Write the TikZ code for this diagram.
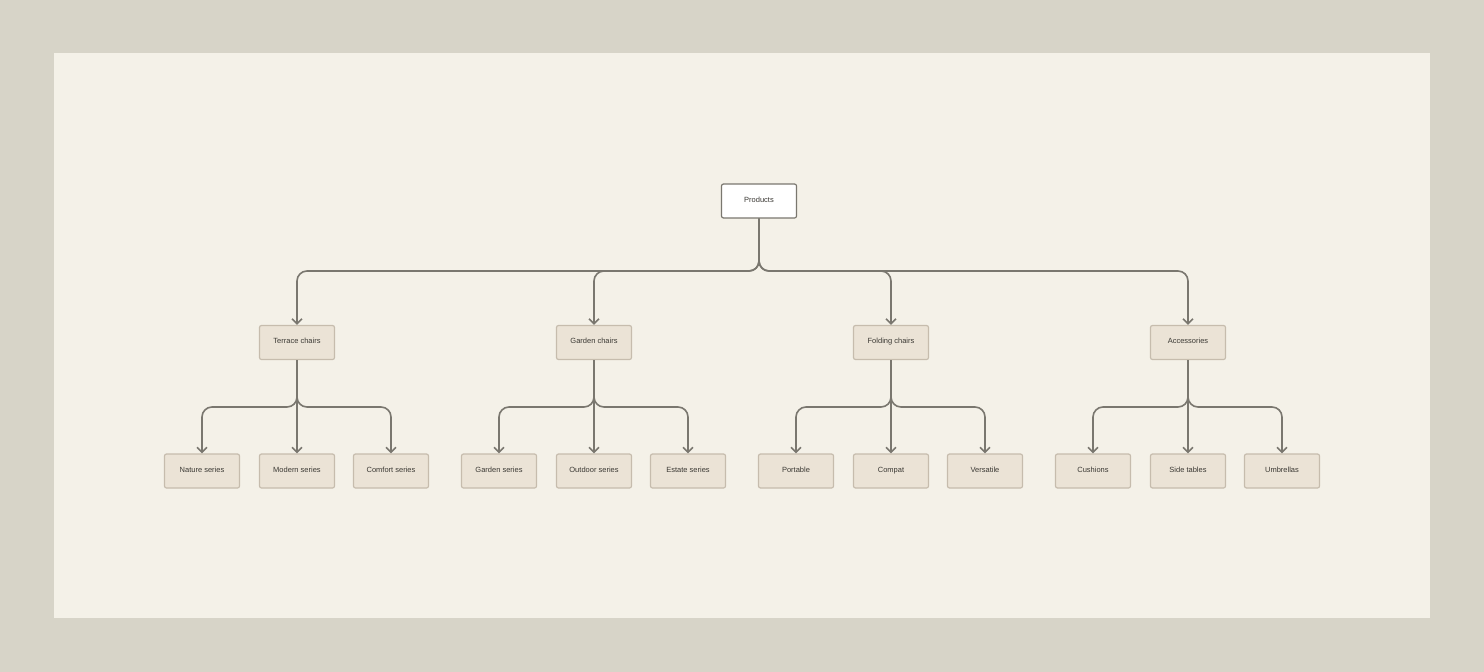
\documentclass[tikz,border=0pt]{standalone}
\usepackage{fontspec}
\setmainfont{Liberation Sans}
\usetikzlibrary{arrows.meta}
\definecolor{outer}{HTML}{D7D4C8}
\definecolor{panel}{HTML}{F4F1E8}
\definecolor{edge}{HTML}{7A776F}
\definecolor{boxfill}{HTML}{EBE3D6}
\definecolor{boxline}{HTML}{C6BCAD}
\definecolor{txt}{HTML}{3A3833}
\begin{document}
\begin{tikzpicture}[x=1pt,y=-1pt,
  box/.style={draw=boxline,fill=boxfill,line width=1.2pt,rounded corners=2pt,minimum width=75pt,minimum height=34pt,inner sep=0pt,text height=5pt,text depth=2.5pt,font=\fontsize{7.5}{8}\selectfont,text=txt},
  root/.style={box,draw=edge,fill=white},
  conn/.style={draw=edge,line width=1.6pt,rounded corners=10pt,-{Straight Barb[length=5pt,width=10pt]}}]
\fill[outer] (0,0) rectangle (1484,672);
\fill[panel] (54,53) rectangle (1430,618);
\useasboundingbox (0,0) rectangle (1484,672);
\node[root] (p) at (759,201) {Products};
\foreach \n/\x/\t in {a/297/Terrace chairs,b/594/Garden chairs,c/891/Folding chairs,d/1188/Accessories}{
  \node[box] (\n) at (\x,342.5) {\t};
  \draw[conn] (p.south) |- (\x,271) -- (\n.north);
}
\foreach \p/\x/\l/\r/\tl/\tm/\tr in {a/297/202/391/Nature series/Modern series/Comfort series,
 b/594/499/688/Garden series/Outdoor series/Estate series,
 c/891/796/985/Portable/Compat/Versatile,
 d/1188/1093/1282/Cushions/Side tables/Umbrellas}{
  \node[box] (\p1) at (\l,471) {\tl};
  \node[box] (\p2) at (\x,471) {\tm};
  \node[box] (\p3) at (\r,471) {\tr};
  \draw[conn] (\p.south) |- (\l,407) -- (\p1.north);
  \draw[conn] (\p.south) |- (\r,407) -- (\p3.north);
  \draw[conn] (\p.south) -- ([xshift=0.01pt]\p2.north);
}
\end{tikzpicture}
\end{document}
